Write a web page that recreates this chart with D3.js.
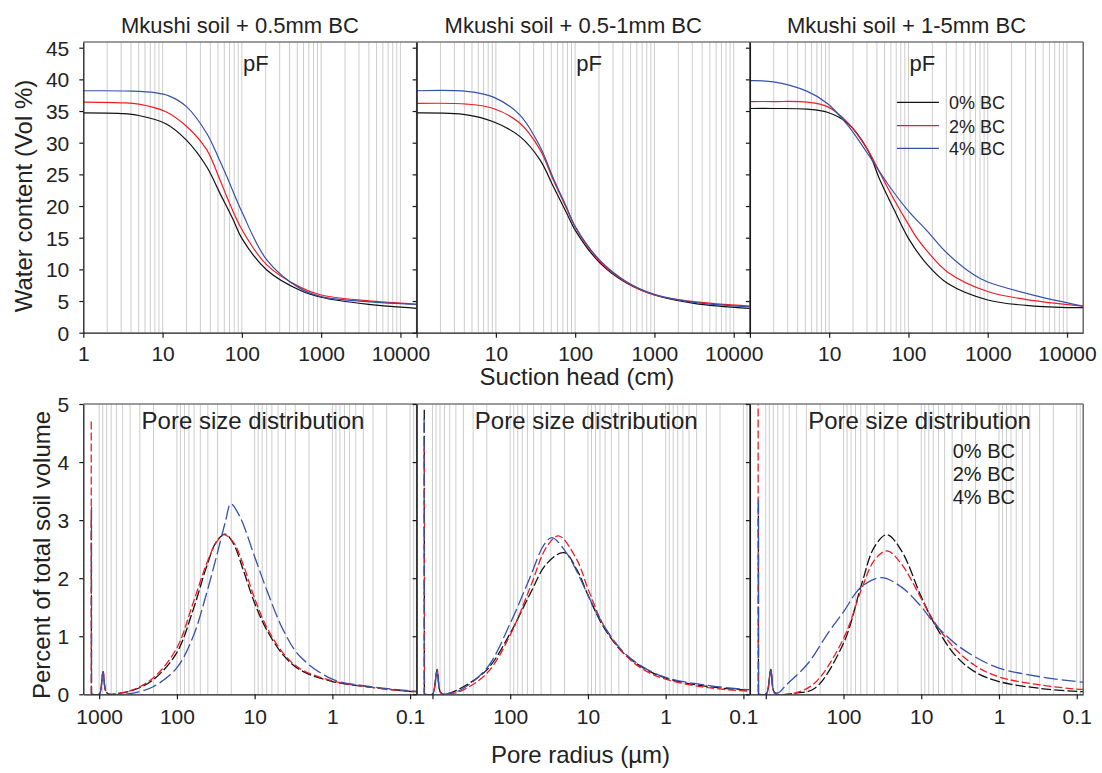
<!DOCTYPE html>
<html><head><meta charset="utf-8">
<script src="https://cdn.jsdelivr.net/npm/d3@7"></script>
<style>
body{margin:0;background:#fff;}
svg{display:block;font-family:"Liberation Sans",Arial,Helvetica,sans-serif;}
</style></head><body>
<svg id="chart" width="1102" height="773"></svg>
<script>
// ---------- data ----------
const panelTitles = ["Mkushi soil + 0.5mm BC", "Mkushi soil + 0.5-1mm BC", "Mkushi soil + 1-5mm BC"];
const seriesNames = ["0% BC", "2% BC", "4% BC"];
const seriesColors = ["#111111", "#ee1c24", "#3552a8"];
const seriesDash = ["10,3", "8,3", "14,4"];
const suctionTicks = [1, 10, 100, 1000, 10000];
const waterTicks = [0, 5, 10, 15, 20, 25, 30, 35, 40, 45];
const poreTicks = [1000, 100, 10, 1, 0.1];
const psdTicks = [0, 1, 2, 3, 4, 5];
const suctionDomain = [1, 16000];
const waterDomain = [0, 45.9];
const poreDomain = [1600, 0.0825];
const psdDomain = [0, 5];

// water retention curves: [suction head (cm), water content (vol %)]
const ret05_0 = [[1,34.7],[3,34.6],[5,34.3],[11,33.0],[20,30.4],[36,26.2],[53,22.0],[78,17.8],[100,14.9],[206,9.9],[540,6.7],[1000,5.6],[3750,4.5],[16000,3.85]];
const ret05_2 = [[1,36.4],[3,36.3],[5,36.1],[11,34.9],[20,32.6],[36,28.9],[53,24.1],[65,21.4],[100,16.3],[206,10.7],[540,7.2],[1000,5.95],[3750,5.05],[16000,4.5]];
const ret05_4 = [[1,38.2],[4,38.15],[8,37.9],[12,37.4],[20,35.7],[36,31.5],[50,27.8],[65,24.6],[100,19.1],[206,11.5],[540,7.0],[1000,5.7],[3750,4.9],[16000,4.45]];
const ret051_0 = [[1,34.7],[4.3,34.4],[9.3,33.3],[20,31.0],[36,27.3],[53,23.1],[78,18.9],[100,16.2],[206,11.0],[450,7.8],[1000,5.96],[3160,4.64],[16000,3.85]];
const ret051_2 = [[1,36.2],[4.3,36.1],[9.3,35.4],[20,33.1],[36,28.9],[53,24.1],[78,19.6],[100,16.7],[206,11.2],[450,7.9],[1000,5.96],[3160,4.9],[16000,4.2]];
const ret051_4 = [[1,38.2],[4.3,38.1],[9.3,37.2],[20,34.4],[36,29.4],[53,24.4],[78,19.8],[100,16.8],[206,11.4],[450,8.0],[1000,6.05],[3160,4.8],[16000,4.1]];
const ret15_0 = [[1,35.4],[2,35.4],[5.3,35.3],[9.5,34.8],[17,33.1],[30.5,28.9],[43,24.3],[66,19.4],[100,14.9],[174,10.7],[310,7.8],[1000,5.17],[3850,4.2],[16000,3.95]];
const ret15_2 = [[1,36.5],[2,36.5],[5.3,36.4],[9.5,35.7],[17,33.2],[30.5,28.9],[45,24.9],[66,21.0],[100,17.1],[130,14.8],[174,12.8],[310,9.6],[1000,6.5],[3850,5.05],[16000,4.2]];
const ret15_4 = [[1,39.8],[2,39.6],[5.3,38.1],[9.5,36.2],[17,32.8],[30.5,28.3],[54,23.6],[97,19.4],[174,16.0],[310,12.5],[675,9.1],[1000,8.0],[3850,5.9],[16000,4.2]];

// pore size distributions: [pore radius (µm), percent of total soil volume]
const psd05_0 = [[1260,3.05],[1258,0],[1000,0],[960,0.05],[890,0.39],[820,0.05],[740,0],[600,0.01],[365,0.07],[202,0.25],[101,0.71],[62,1.45],[41.5,2.2],[31,2.63],[24,2.76],[18.8,2.6],[14,2.14],[10,1.57],[7,1.11],[4.3,0.68],[2.6,0.42],[1,0.22],[0.36,0.13],[0.1,0.05],[0.083,0.045]];
const psd05_2 = [[1265,4.7],[1262,0],[1000,0],[960,0.05],[890,0.4],[820,0.05],[740,0],[600,0.01],[365,0.08],[202,0.28],[101,0.79],[62,1.57],[41.5,2.25],[31,2.62],[25,2.75],[18.8,2.62],[14,2.23],[10,1.65],[7,1.16],[4.3,0.71],[2.6,0.44],[1,0.23],[0.36,0.13],[0.1,0.05],[0.083,0.045]];
const psd05_4 = [[1255,3.23],[1252,0],[1000,0],[960,0.05],[890,0.39],[820,0.05],[740,0],[500,0],[365,0.02],[202,0.13],[101,0.45],[62,0.99],[41.5,1.74],[31,2.37],[24,2.95],[20.2,3.28],[15.5,3.06],[10,2.37],[7,1.8],[4.3,1.11],[2.6,0.65],[1,0.26],[0.36,0.14],[0.1,0.06],[0.083,0.05]];
const psd051_0 = [[1275,4.9],[1272,0],[1000,0],[960,0.05],[870,0.43],[800,0.05],[730,0],[600,0.02],[440,0.1],[200,0.42],[100,1.05],[55,1.74],[34,2.25],[20.2,2.44],[13.8,2.14],[10,1.71],[6.3,1.16],[3.5,0.71],[1.9,0.45],[1,0.28],[0.31,0.14],[0.1,0.075],[0.083,0.07]];
const psd051_2 = [[1270,4.3],[1267,0],[1000,0],[960,0.05],[870,0.43],[800,0.05],[730,0],[600,0.01],[440,0.05],[200,0.36],[100,1.02],[55,1.85],[34,2.54],[23.9,2.73],[13.8,2.31],[10,1.82],[6.3,1.19],[3.5,0.71],[1.9,0.42],[1,0.26],[0.31,0.12],[0.1,0.06],[0.083,0.055]];
const psd051_4 = [[1280,4.75],[1277,0],[1000,0],[960,0.05],[870,0.4],[800,0.05],[730,0],[600,0.02],[440,0.07],[200,0.45],[100,1.22],[55,2.03],[37,2.57],[29,2.7],[18.8,2.43],[13.8,2.11],[10,1.71],[6.3,1.19],[3.5,0.73],[1.9,0.46],[1,0.29],[0.31,0.16],[0.1,0.086],[0.083,0.08]];
const psd15_0 = [[1245,3.3],[1242,0],[1000,0],[950,0.05],[860,0.43],[790,0.05],[720,0],[427,0.02],[236,0.1],[100,0.88],[59,1.88],[40,2.54],[27.6,2.75],[18.1,2.48],[10,1.68],[6.8,1.22],[3.7,0.68],[2.06,0.39],[1,0.22],[0.29,0.1],[0.1,0.05],[0.083,0.045]];
const psd15_2 = [[1255,5.3],[1252,0],[1000,0],[950,0.05],[860,0.43],[790,0.05],[720,0],[427,0.02],[236,0.19],[100,0.96],[59,1.8],[40,2.31],[27.6,2.47],[18.1,2.25],[10,1.65],[6.8,1.25],[3.7,0.79],[2.06,0.5],[1,0.3],[0.29,0.16],[0.1,0.09],[0.083,0.085]];
const psd15_4 = [[1240,3.35],[1237,0],[1000,0],[950,0.05],[860,0.42],[790,0.05],[720,0.02],[650,0.05],[574,0.13],[287,0.53],[159,1.05],[100,1.42],[59,1.85],[32.7,2.01],[18.1,1.85],[10,1.51],[6.8,1.22],[3.7,0.88],[2.06,0.65],[1,0.45],[0.29,0.3],[0.1,0.22],[0.083,0.21]];

const retention = [[ret05_0, ret05_2, ret05_4], [ret051_0, ret051_2, ret051_4], [ret15_0, ret15_2, ret15_4]];
const psd = [[psd05_0, psd05_2, psd05_4], [psd051_0, psd051_2, psd051_4], [psd15_0, psd15_2, psd15_4]];

// ---------- layout ----------
const L = 83.3, PW = 333.3;
const topY = [42, 332.7], botY = [404, 694.3];
const txt = "#222";
const svg = d3.select("#chart");

function logGrid(lo, hi) {
  const out = [];
  for (let k = -3; k <= 5; k++) for (let m = 1; m <= 9; m++) {
    const v = m * Math.pow(10, k);
    if (v > lo * 1.0001 && v < hi * 0.9999) out.push(v);
  }
  return out;
}

for (let i = 0; i < 3; i++) {
  const x0 = L + i * PW;
  const xS = d3.scaleLog().domain(suctionDomain).range([x0, x0 + PW]);
  const yS = d3.scaleLinear().domain(waterDomain).range([topY[1], topY[0]]);
  const xP = d3.scaleLog().domain(poreDomain).range([x0, x0 + PW]);
  const yP = d3.scaleLinear().domain(psdDomain).range([botY[1], botY[0]]);

  svg.append("clipPath").attr("id", "ct" + i).append("rect")
    .attr("x", x0).attr("y", topY[0]).attr("width", PW).attr("height", topY[1] - topY[0]);
  svg.append("clipPath").attr("id", "cb" + i).append("rect")
    .attr("x", x0).attr("y", botY[0]).attr("width", PW).attr("height", botY[1] - botY[0]);

  // grid lines
  svg.append("g").selectAll("line").data(logGrid(suctionDomain[0], suctionDomain[1])).join("line")
    .attr("x1", d => xS(d)).attr("x2", d => xS(d)).attr("y1", topY[0]).attr("y2", topY[1])
    .attr("stroke", "#cdcdcd").attr("stroke-width", 1);
  svg.append("g").selectAll("line").data(logGrid(poreDomain[1], poreDomain[0])).join("line")
    .attr("x1", d => xP(d)).attr("x2", d => xP(d)).attr("y1", botY[0]).attr("y2", botY[1])
    .attr("stroke", "#cdcdcd").attr("stroke-width", 1);

  // retention curves
  const lineT = d3.line().x(d => xS(d[0])).y(d => yS(d[1])).curve(d3.curveCatmullRom.alpha(0.5));
  const gT = svg.append("g").attr("clip-path", `url(#ct${i})`);
  retention[i].forEach((s, j) => {
    gT.append("path").attr("d", lineT(s)).attr("fill", "none")
      .attr("stroke", seriesColors[j]).attr("stroke-width", 1.2);
  });

  // PSD curves: near-vertical spike drawn straight, the rest smooth
  const lineSpike = d3.line().x(d => xP(d[0])).y(d => yP(d[1]));
  const lineB = d3.line().x(d => xP(d[0])).y(d => yP(d[1])).curve(d3.curveCatmullRom.alpha(0.5));
  const gB = svg.append("g").attr("clip-path", `url(#cb${i})`);
  psd[i].forEach((s, j) => {
    gB.append("path").attr("d", lineSpike(s.slice(0, 2))).attr("fill", "none")
      .attr("stroke", seriesColors[j]).attr("stroke-width", 1.3)
      .attr("stroke-dasharray", seriesDash[j]);
    gB.append("path").attr("d", lineB(s.slice(1))).attr("fill", "none")
      .attr("stroke", seriesColors[j]).attr("stroke-width", 1.3)
      .attr("stroke-dasharray", seriesDash[j]);
  });

  // frames (top + right)
  [topY, botY].forEach(yy => {
    svg.append("line").attr("x1", x0).attr("x2", x0 + PW).attr("y1", yy[0]).attr("y2", yy[0])
      .attr("stroke", "#7a7a7a").attr("stroke-width", 1.4);
    svg.append("line").attr("x1", x0 + PW).attr("x2", x0 + PW).attr("y1", yy[0]).attr("y2", yy[1])
      .attr("stroke", "#555").attr("stroke-width", 1.3);
  });

  // axes
  const styleAxis = (g) => {
    g.attr("font-size", 21).attr("font-family", null);
    g.select(".domain").attr("stroke", "#1a1a1a").attr("stroke-width", 1.3);
    g.selectAll(".tick line").attr("stroke", "#1a1a1a").attr("stroke-width", 1.2);
    g.selectAll(".tick text").attr("fill", txt);
  };
  const axT = d3.axisBottom(xS).tickValues(suctionTicks).tickSize(5).tickSizeOuter(0)
    .tickFormat(d => (i > 0 && d === 1) ? "" : String(d));
  svg.append("g").attr("transform", `translate(0,${topY[1]})`).call(axT).call(styleAxis)
    .selectAll(".tick text").attr("y", 28).attr("dy", 0);
  const axB = d3.axisBottom(xP).tickValues(poreTicks).tickSize(5).tickSizeOuter(0)
    .tickFormat(d => (i > 0 && d === 1000) ? "" : String(d));
  svg.append("g").attr("transform", `translate(0,${botY[1]})`).call(axB).call(styleAxis)
    .selectAll(".tick text").attr("y", 30).attr("dy", 0);

  const ayT = d3.axisLeft(yS).tickValues(waterTicks).tickSize(4).tickPadding(10).tickSizeOuter(0)
    .tickFormat(d => i === 0 ? String(d) : "");
  svg.append("g").attr("transform", `translate(${x0},0)`).call(ayT).call(styleAxis)
    .selectAll(".tick text").attr("dy", "0.36em");
  const ayB = d3.axisLeft(yP).tickValues(psdTicks).tickSize(4).tickPadding(10).tickSizeOuter(0)
    .tickFormat(d => i === 0 ? String(d) : "");
  svg.append("g").attr("transform", `translate(${x0},0)`).call(ayB).call(styleAxis)
    .selectAll(".tick text").attr("dy", "0.36em");

  // labels
  svg.append("text").attr("x", x0 + PW / 2 - 10).attr("y", 33).attr("text-anchor", "middle")
    .attr("font-size", 22).attr("fill", txt).text(panelTitles[i]);
  svg.append("text").attr("x", xS(150)).attr("y", 71).attr("text-anchor", "middle")
    .attr("font-size", 22).attr("fill", txt).text("pF");
  svg.append("text").attr("x", x0 + PW / 2 + 3).attr("y", 429).attr("text-anchor", "middle")
    .attr("font-size", 24).attr("fill", txt).text("Pore size distribution");
}

// legend (retention, panel 3)
const lgX = L + 2 * PW + 147;
const lgY = [102.3, 125.7, 148.3];
seriesNames.forEach((n, j) => {
  svg.append("line").attr("x1", lgX).attr("x2", lgX + 42).attr("y1", lgY[j]).attr("y2", lgY[j])
    .attr("stroke", seriesColors[j]).attr("stroke-width", 1.2);
  svg.append("text").attr("x", lgX + 52).attr("y", lgY[j] + 7).attr("font-size", 18)
    .attr("fill", txt).text(n);
});
// legend text (PSD, panel 3)
const lbY = [457.7, 481, 504.3];
seriesNames.forEach((n, j) => {
  svg.append("text").attr("x", 952.7).attr("y", lbY[j]).attr("font-size", 20)
    .attr("fill", txt).text(n);
});

// axis titles
svg.append("text").attr("x", 577).attr("y", 385).attr("text-anchor", "middle")
  .attr("font-size", 24).attr("fill", txt).text("Suction head (cm)");
svg.append("text").attr("x", 580.5).attr("y", 763).attr("text-anchor", "middle")
  .attr("font-size", 24).attr("fill", txt).text("Pore radius (µm)");
svg.append("text").attr("transform", "translate(32,196) rotate(-90)").attr("text-anchor", "middle")
  .attr("font-size", 24).attr("fill", txt).text("Water content (Vol %)");
svg.append("text").attr("transform", "translate(50,555) rotate(-90)").attr("text-anchor", "middle")
  .attr("font-size", 24).attr("fill", txt).text("Percent of total soil volume");
</script>
</body></html>
